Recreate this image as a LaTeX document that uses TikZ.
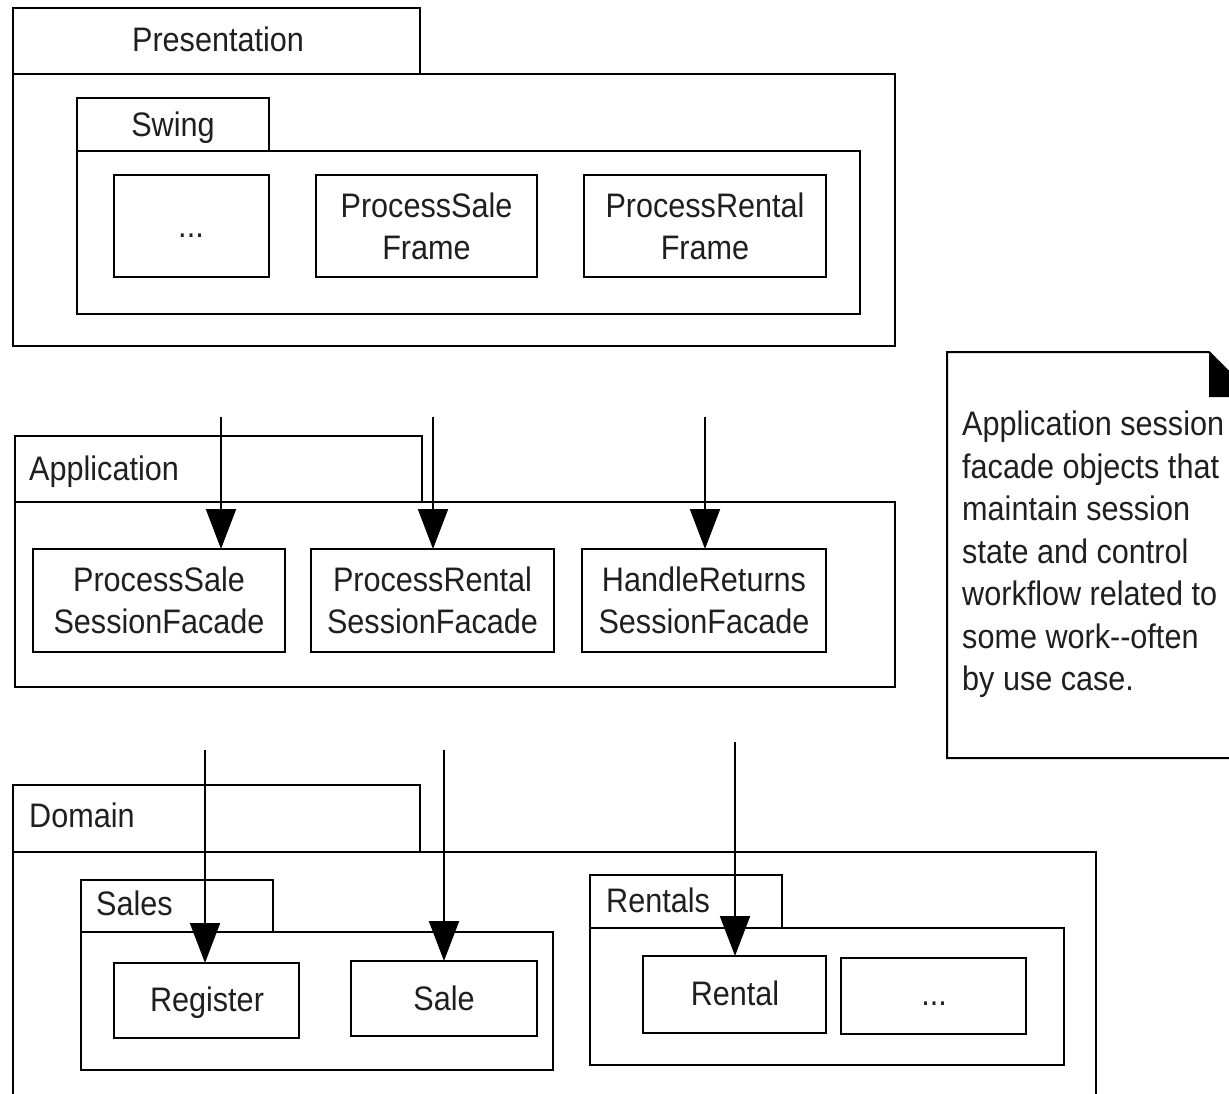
\documentclass[tikz,border=0pt]{standalone}
\usepackage{fontspec}
\setmainfont{Liberation Sans}[FakeStretch=0.9]
\usetikzlibrary{arrows.meta}
\newcommand\diagfont{\fontsize{34}{42}\selectfont}
% rectangle node from corner (x1,y1) to (x2,y2): name, x1, y1, x2, y2, text
\newcommand\rbox[6]{%
  \node[frame, minimum width={(#4)-(#2)}, minimum height={(#5)-(#3)}]
    (#1) at ({((#2)+(#4))/2},{((#3)+(#5))/2}) {#6};}
\begin{document}
\begin{tikzpicture}[x=1pt,y=-1pt,
  frame/.style={draw=black, line width=2pt, inner sep=0pt, outer sep=0pt,
                align=center, font=\diagfont, text=black!88},
  lbl/.style={inner sep=0pt, font=\diagfont, text=black!88},
  dep/.style={draw=black, line width=2pt,
              -{Triangle[width=30pt,length=40pt]}}]
\useasboundingbox (0,0) rectangle (1229,1094);
\clip (0,0) rectangle (1229,1094);

% Presentation layer
\rbox{presTab}{13}{8}{420}{74}{}
\rbox{presBody}{13}{74}{895}{346}{}
\node[lbl, anchor=base] (presLbl) at (218,52) {Presentation};
\rbox{swingTab}{77}{98}{269}{151}{}
\rbox{swingBody}{77}{151}{860}{314}{}
\node[lbl, anchor=base] (swingLbl) at (173,137) {Swing};
\rbox{frmMore}{114}{175}{269}{277}{}
\node[lbl, anchor=base] (frmMoreLbl) at (191,238) {...};
\rbox{psFrame}{316}{175}{537}{277}{ProcessSale\\Frame}
\rbox{prFrame}{584}{175}{826}{277}{ProcessRental\\Frame}

% Application layer
\rbox{appTab}{15}{436}{422}{502}{}
\rbox{appBody}{15}{502}{895}{687}{}
\node[lbl, anchor=base west] (appLbl) at (29,480) {Application};
\rbox{psFacade}{33}{549}{285}{652}{ProcessSale\\SessionFacade}
\rbox{prFacade}{311}{549}{554}{652}{ProcessRental\\SessionFacade}
\rbox{hrFacade}{582}{549}{826}{652}{HandleReturns\\SessionFacade}

% Domain layer
\rbox{domTab}{13}{785}{420}{852}{}
\rbox{domBody}{13}{852}{1096}{1120}{}
\node[lbl, anchor=base west] (domLbl) at (29,827) {Domain};
\rbox{salesTab}{81}{880}{273}{932}{}
\rbox{salesBody}{81}{932}{553}{1070}{}
\node[lbl, anchor=base west] (salesLbl) at (96,915) {Sales};
\rbox{register}{114}{963}{299}{1038}{}
\node[lbl, anchor=base] (registerLbl) at (207,1011) {Register};
\rbox{sale}{351}{961}{537}{1036}{}
\node[lbl, anchor=base] (saleLbl) at (444,1010) {Sale};
\rbox{rentalsTab}{590}{875}{782}{928}{}
\rbox{rentalsBody}{590}{928}{1064}{1065}{}
\node[lbl, anchor=base west] (rentalsLbl) at (606,912) {Rentals};
\rbox{rental}{643}{956}{826}{1033}{}
\node[lbl, anchor=base] (rentalLbl) at (735,1005) {Rental};
\rbox{rentMore}{841}{958}{1026}{1034}{}
\node[lbl, anchor=base] (rentMoreLbl) at (934,1005) {...};

% dependency arrows
\coordinate (d1) at (221,417);
\coordinate (d2) at (433,417);
\coordinate (d3) at (705,417);
\coordinate (d4) at (205,750);
\coordinate (d5) at (444,750);
\coordinate (d6) at (735,742);
\draw[dep] (d1) -- (d1 |- psFacade.north);
\draw[dep] (d2) -- (d2 |- prFacade.north);
\draw[dep] (d3) -- (d3 |- hrFacade.north);
\draw[dep] (d4) -- (d4 |- register.north);
\draw[dep] (d5) -- (d5 |- sale.north);
\draw[dep] (d6) -- (d6 |- rental.north);

% note with folded corner
\draw[line width=2pt, line join=miter] (947,352) -- (1209,352) -- (1254,397)
  -- (1254,758) -- (947,758) -- cycle;
\fill[black] (1209,352) -- (1209,397) -- (1254,397) -- cycle;
\node[lbl, anchor=north west, align=left, font=\fontsize{34}{42.5}\selectfont]
  (noteText) at (962,411)
  {Application session\\facade objects that\\maintain session\\state and control\\workflow related to\\some work{-}{-}often\\by use case.};
\end{tikzpicture}
\end{document}
